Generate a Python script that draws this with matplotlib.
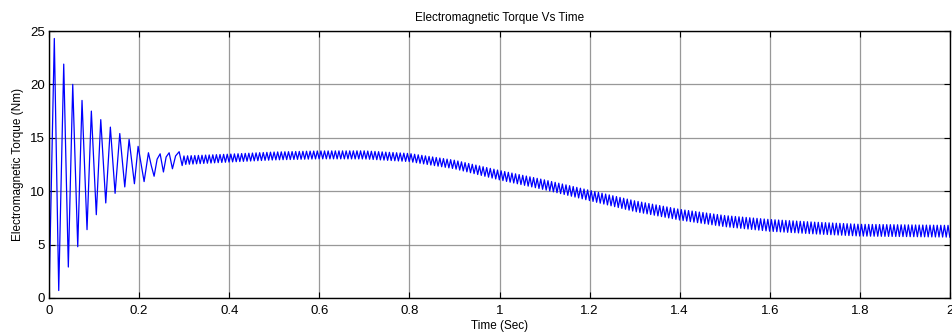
import numpy as np
import matplotlib
matplotlib.use("Agg")
import matplotlib.pyplot as plt

plt.rcParams['font.family'] = ['Liberation Sans', 'DejaVu Sans']

# Start-up transient: extreme points (time in s, torque in Nm)
transient_t = [0.0, 0.0118, 0.0216, 0.0327, 0.0429, 0.0527, 0.0638, 0.0733, 0.0844,
               0.0940, 0.1050, 0.1149, 0.1260, 0.1362, 0.1467, 0.1571, 0.1682,
               0.1778, 0.1896, 0.1978, 0.2111, 0.2207, 0.2270, 0.2333, 0.2400,
               0.2467, 0.2540, 0.2600, 0.2667, 0.2740, 0.2810, 0.2889, 0.2956]
transient_v = [0.0, 24.3, 0.7, 21.9, 2.9, 20.0, 4.8, 18.5, 6.4,
               17.5, 7.8, 16.7, 8.9, 16.0, 9.8, 15.4, 10.4,
               14.85, 10.7, 14.2, 10.9, 13.6, 12.4, 11.4, 13.0,
               13.5, 11.8, 13.2, 13.6, 12.1, 13.3, 13.7, 12.4]

# Steady-state ripple: mean level and half peak-to-peak amplitude at knot times
ripple_knots_t = [0.30, 0.40, 0.50, 0.60, 0.70, 0.80, 0.90, 1.00, 1.10, 1.20,
                  1.30, 1.40, 1.50, 1.60, 1.70, 1.80, 1.90, 2.00]
ripple_mean = [12.9, 13.1, 13.3, 13.4, 13.4, 13.15, 12.5, 11.5, 10.6, 9.6,
               8.6, 7.8, 7.2, 6.8, 6.55, 6.35, 6.3, 6.25]
ripple_half_amp = [0.40, 0.37, 0.37, 0.37, 0.38, 0.38, 0.40, 0.44, 0.46, 0.48,
                   0.50, 0.50, 0.52, 0.55, 0.55, 0.55, 0.55, 0.55]
ripple_half_period = 0.0040  # s between successive ripple extremes

x_ticks = [0, 0.2, 0.4, 0.6, 0.8, 1.0, 1.2, 1.4, 1.6, 1.8, 2.0]
x_tick_labels = ['0', '0.2', '0.4', '0.6', '0.8', '1', '1.2', '1.4', '1.6', '1.8', '2']
y_ticks = [0, 5, 10, 15, 20, 25]

# ripple extremes (alternating above / below the mean level)
rt = np.arange(0.2996, 2.0 + 1e-9, ripple_half_period)
rm = np.interp(rt, ripple_knots_t, ripple_mean)
ra = np.interp(rt, ripple_knots_t, ripple_half_amp)
sign = np.where(np.arange(len(rt)) % 2 == 0, 1.0, -1.0)
rv = rm + sign * ra

t_all = np.concatenate([transient_t, rt])
v_all = np.concatenate([transient_v, rv])

fig = plt.figure(figsize=(9.53, 3.34), dpi=100)
ax = fig.add_axes([49 / 953, 1 - 298 / 334, (950 - 49) / 953, (298 - 31) / 334])
ax.plot(t_all, v_all, color='#0000ff', lw=0.9)

ax.set_xlim(0, 2)
ax.set_ylim(0, 25)
ax.set_xticks(x_ticks)
ax.set_xticklabels(x_tick_labels)
ax.set_yticks(y_ticks)
ax.tick_params(direction='in', top=True, right=True, length=4, width=0.8,
               labelsize=9.5, colors='black')
ax.tick_params(axis='x', pad=5)
ax.tick_params(axis='y', pad=3)
ax.grid(True, color='#7f7f7f', lw=0.9, alpha=0.8)
for s in ax.spines.values():
    s.set_linewidth(1.0)
    s.set_color('black')

ax.set_title('Electromagnetic Torque Vs Time', fontsize=8.5, pad=7)
ax.set_xlabel('Time (Sec)', fontsize=8.5, labelpad=2)
ax.set_ylabel('Electromagnetic Torque (Nm)', fontsize=8.5, labelpad=4)

fig.savefig('out.png', dpi=100)
